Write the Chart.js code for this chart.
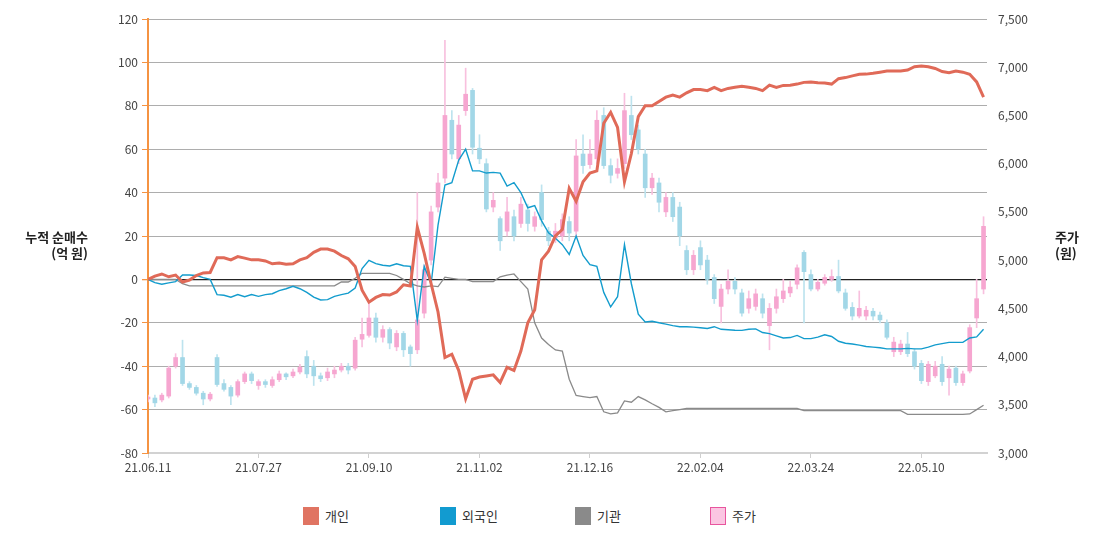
<!DOCTYPE html>
<html>
<head>
    <meta charset="utf-8">
    <title>누적 순매수 / 주가</title>
    <script src="https://cdn.jsdelivr.net/npm/chart.js"></script>
    <style>
        body { margin: 0; background: #fff; font-family: "Noto Sans CJK KR", "Noto Sans", sans-serif; }
        #wrap { position: relative; width: 1100px; height: 541px; }
        #chart { position: absolute; left: 0; top: 0; }
        .axis-title { position: absolute; font-size: 13px; font-weight: bold; color: #222; line-height: 16px; }
        .legend-item { position: absolute; top: 506px; font-size: 13px; color: #333; display: flex; align-items: center; }
        .legend-item span.box { display: inline-block; width: 16px; height: 18px; margin-right: 6px; box-sizing: border-box; }
    </style>
</head>
<body>
<div id="wrap">
    <canvas id="chart" width="1100" height="480"></canvas>
    <div class="axis-title" style="left:10px; top:229px; width:78px; text-align:right;">누적 순매수<br>(억 원)</div>
    <div class="axis-title" style="left:1055px; top:229px;">주가<br>(원)</div>
    <div class="legend-item" style="left:303px;"><span class="box" style="background:#e07462;"></span>개인</div>
    <div class="legend-item" style="left:440px;"><span class="box" style="background:#129bd0;"></span>외국인</div>
    <div class="legend-item" style="left:575px;"><span class="box" style="background:#8a8a8a;"></span>기관</div>
    <div class="legend-item" style="left:710px;"><span class="box" style="background:#fbc6e2; border:1px solid #e8559e;"></span>주가</div>
</div>

<script>
    // x축 눈금 (16포인트 = 32거래일 간격)
    const xTickLabels = ['21.06.11', '21.07.27', '21.09.10', '21.11.02', '21.12.16', '22.02.04', '22.03.24', '22.05.10'];

    // 누적 순매수 (억 원), 2거래일 간격
    const individual = [
        0, 1.5, 2.5, 1.2, 2, -1.2, -0.3, 1.8, 3, 3.2,
        10, 10, 9, 10.5, 9.8, 9, 9, 8.5, 7.2, 7.5,
        7, 7.2, 9, 10, 12.5, 14, 14, 13, 11, 9.5,
        6, -5, -10.5, -8.3, -7, -7.2, -5.8, -2.5, -3, 24,
        12, -2, -15, -36, -34.5, -42, -55, -46, -45, -44.5,
        -44, -47.5, -40.5, -42, -33, -20, -14, 9, 13, 20,
        23, 42, 36, 45, 49, 50, 72, 77, 70, 45,
        58, 75, 80, 80, 82, 84, 85, 84, 86, 87.5,
        87.5, 87, 88.5, 87, 88, 88.5, 89, 88.5, 88, 87,
        89.5, 88.5, 89.4, 89.5, 90, 90.8, 91, 90.6, 90.5, 90,
        92.5, 93, 93.8, 94.5, 94.6, 95, 95.5, 96, 96, 96,
        96.5, 98, 98.3, 98, 97.2, 95.8, 95.2, 96, 95.5, 94.5,
        91, 84
    ];
    const foreign = [
        0, -1.5, -2.2, -1.6, -1, 2, 2, 1.8, 0.8, 0,
        -7, -7.3, -8.2, -7, -8, -7, -7.8, -7, -6.6, -5.2,
        -4.3, -3.2, -4.3, -6, -8.2, -9.5, -9.3, -7.8, -7, -6.3,
        -4, 5, 8.8, 7.3, 6.5, 6.2, 7.2, 6.3, 6, -19,
        6, -2, 25, 43.5, 44.6, 55, 60, 50, 50, 49,
        49.3, 49, 43, 44.6, 40, 33, 34, 27, 21.5, 19,
        16, 11.5, 20, 11, 6.8, 6, -6, -12.7, -8, 16,
        -2, -16, -19.6, -19.3, -20, -20.6, -21.3, -21.8, -21.8, -22,
        -22.3, -22.6, -21.8, -23, -23.2, -23.4, -23.5, -23, -22.8, -24.5,
        -25, -26, -27, -26.8, -25.8, -27.3, -27.3, -26.6, -25.5, -26.3,
        -28.5, -29.4, -29.8, -30.3, -30.9, -31.2, -31.5, -32, -32, -32,
        -31.8, -32, -32, -31.2, -30.2, -29.6, -29, -29, -29, -27,
        -26.5, -23
    ];
    const institution = [
        0, 0, 0, 0, 0, -2, -3, -3, -3, -3,
        -3, -3, -3, -3, -3, -3, -3, -3, -3, -3,
        -3, -3, -3, -3, -3, -3, -3, -3, -1.2, -1.2,
        0.5, 2.8, 2.8, 2.8, 2.8, 2.8, 1.8, 0, -2, -3,
        -3.5, -3, -3.3, 1, 0.5, 0, 0, -1, -1, -1,
        -1, 1.2, 2, 2.5, -1, -4.5, -20, -27, -30, -32.5,
        -33, -46, -53.5, -54, -54.5, -54, -61, -62, -61.5, -56,
        -56.6, -54, -55.5, -57.3, -59, -61, -60.5, -60, -59.5, -59.5,
        -59.5, -59.5, -59.5, -59.5, -59.5, -59.5, -59.5, -59.5, -59.5, -59.5,
        -59.5, -59.5, -59.5, -59.5, -59.5, -60.5, -60.5, -60.5, -60.5, -60.5,
        -60.5, -60.5, -60.5, -60.5, -60.5, -60.5, -60.5, -60.5, -60.5, -60.5,
        -62.2, -62.2, -62.2, -62.2, -62.2, -62.2, -62.2, -62.2, -62.2, -62,
        -60, -58
    ];

    // 주가 (원): 시가 / 종가 / 고가 / 저가
    const priceOpen = [
        3560, 3570, 3550, 3590, 3900, 3990, 3720, 3680, 3620, 3560,
        3990, 3720, 3680, 3600, 3740, 3820, 3700, 3740, 3700, 3760,
        3820, 3800, 3840, 4000, 3900, 3800, 3780, 3820, 3860, 3900,
        3880, 4180, 4220, 4400, 4200, 4280, 4100, 4240, 4100, 4070,
        4450, 5000, 5550, 5850, 6450, 6050, 6550, 6760, 6160, 6000,
        5550, 5430, 5300, 5450, 5380, 5520, 5350, 5700, 5300, 5230,
        5250, 5400, 5300, 6100, 5990, 6050, 6500, 5980, 5900, 6000,
        6500, 6350, 6100, 5750, 5800, 5500, 5650, 5550, 5100, 4900,
        5130, 5000, 4820, 4520, 4700, 4780, 4660, 4500, 4520, 4600,
        4320, 4500, 4600, 4660, 4750, 5080, 4850, 4700, 4760, 4800,
        4830, 4660, 4510, 4420, 4420, 4470, 4430, 4350, 4050, 4050,
        4130, 4050, 3930, 3740, 3800, 3920, 3780, 3880, 3730, 3850,
        4400, 4700
    ];
    const priceClose = [
        3580, 3520, 3600, 3880, 3990, 3720, 3680, 3620, 3560, 3610,
        3710, 3660, 3590, 3740, 3820, 3750, 3740, 3710, 3760, 3820,
        3790, 3840, 3890, 3820, 3800, 3770, 3840, 3860, 3900, 3860,
        4170, 4230, 4400, 4200, 4280, 4140, 4240, 4070, 4030, 4380,
        4900, 5500, 5800, 6500, 6100, 6400, 6720, 6170, 6050, 5530,
        5620, 5200, 5500, 5250, 5580, 5380, 5450, 5420, 5200, 5300,
        5420, 5280, 6080, 5980, 6100, 6450, 5980, 5880, 5950, 6550,
        6300, 6150, 5750, 5850, 5600, 5650, 5450, 5250, 4900, 5050,
        4950, 4800, 4600, 4700, 4780, 4700, 4450, 4600, 4650, 4450,
        4500, 4620, 4680, 4720, 4920, 4880, 4700, 4770, 4820, 4830,
        4680, 4500, 4420, 4500, 4480, 4420, 4380, 4200, 4150, 4130,
        4030, 3900, 3750, 3920, 3900, 3740, 3870, 3730, 3820, 4300,
        4600, 5350
    ];
    const priceHigh = [
        3600, 3600, 3620, 3900, 4030, 4170, 3740, 3700, 3640, 3630,
        4020, 3760, 3700, 3760, 3840, 3840, 3760, 3760, 3790, 3850,
        3830, 3870, 3920, 4060, 3960, 3830, 3880, 3900, 3930, 3930,
        4200, 4400, 4550, 4450, 4320, 4300, 4270, 4260, 4120, 5700,
        4950, 5560, 5900, 7280, 6550, 6500, 6990, 6780, 6300, 6050,
        5700, 5450, 5650, 5520, 5650, 5580, 5500, 5780, 5340, 5380,
        5480, 5450, 6250, 6300, 6250, 6550, 6580, 6050, 6050, 6730,
        6700, 6400, 6150, 5900, 5850, 5700, 5700, 5600, 5150, 5100,
        5200, 5050, 4850, 4750, 4900, 4820, 4700, 4680, 4700, 4650,
        4550, 4700, 4800, 4780, 4950, 5100, 4900, 4800, 4850, 4900,
        5000, 4700, 4560, 4680, 4520, 4500, 4460, 4380, 4200, 4170,
        4250, 4080, 3960, 3950, 3950, 4000, 3900, 3900, 3850, 4330,
        4800, 5450
    ];
    const priceLow = [
        3530, 3480, 3530, 3570, 3880, 3700, 3660, 3600, 3500, 3540,
        3690, 3640, 3500, 3580, 3720, 3720, 3660, 3680, 3680, 3740,
        3760, 3780, 3820, 3780, 3700, 3740, 3750, 3780, 3840, 3820,
        3860, 4100, 4200, 4150, 4150, 4080, 4060, 4000, 3900, 4030,
        4400, 4950, 5500, 5800, 6050, 6000, 6500, 6100, 6000, 5500,
        5500, 5100, 5250, 5200, 5340, 5300, 5300, 5350, 5150, 5180,
        5200, 5200, 5240, 5900, 5950, 6000, 5950, 5800, 5850, 5950,
        6250, 6100, 5650, 5680, 5500, 5450, 5400, 5150, 4850, 4850,
        4900, 4750, 4550, 4350, 4650, 4650, 4420, 4450, 4480, 4400,
        4070, 4450, 4560, 4620, 4700, 4350, 4680, 4680, 4740, 4780,
        4660, 4480, 4380, 4400, 4380, 4380, 4350, 4180, 4000, 4020,
        4000, 3870, 3720, 3700, 3780, 3700, 3600, 3700, 3700, 3830,
        4300, 4650
    ];

    const up = i => priceClose[i] >= priceOpen[i];
    const pts = arr => arr.map((v, i) => ({ x: i, y: v }));
    const font = { family: '"Noto Sans CJK KR", "Noto Sans", sans-serif', size: 12 };

    const ctx = document.getElementById('chart').getContext('2d');
    new Chart(ctx, {
        type: 'bar',
        data: {
            datasets: [
                {
                    type: 'line', label: '개인', data: pts(individual), yAxisID: 'y',
                    borderColor: '#e06a58', borderWidth: 3, pointRadius: 0, tension: 0, order: 0
                },
                {
                    type: 'line', label: '외국인', data: pts(foreign), yAxisID: 'y',
                    borderColor: '#139ccd', borderWidth: 1.4, pointRadius: 0, tension: 0, order: 0
                },
                {
                    type: 'line', label: '기관', data: pts(institution), yAxisID: 'y',
                    borderColor: '#8a8a8a', borderWidth: 1.3, pointRadius: 0, tension: 0, order: 0
                },
                {
                    // 캔들 몸통
                    label: '주가', yAxisID: 'yR', grouped: false, order: 1,
                    data: priceOpen.map((o, i) => ({ x: i, y: [o, priceClose[i]] })),
                    backgroundColor: c => up(c.dataIndex) ? '#f6a6d0' : '#a2d7e7',
                    borderWidth: 0, borderSkipped: false, barThickness: 4
                },
                {
                    // 캔들 꼬리
                    label: '주가(고저)', yAxisID: 'yR', grouped: false, order: 2,
                    data: priceLow.map((l, i) => ({ x: i, y: [l, priceHigh[i]] })),
                    backgroundColor: c => up(c.dataIndex) ? '#f8c0de' : '#bde3ee',
                    borderWidth: 0, borderSkipped: false, barThickness: 1
                }
            ]
        },
        options: {
            responsive: false,
            animation: false,
            layout: { padding: { top: 19, left: 0, right: 0, bottom: 0 } },
            plugins: { legend: { display: false }, tooltip: { enabled: false } },
            scales: {
                x: {
                    type: 'linear', min: 0, max: 121.5, offset: false,
                    afterFit: s => { s.height = 27; },
                    afterBuildTicks: s => { s.ticks = s.ticks.filter(t => t.value % 16 === 0); },
                    ticks: {
                        stepSize: 16, autoSkip: false, maxRotation: 0, color: '#444', font: font, padding: 2,
                        callback: v => xTickLabels[v / 16] || ''
                    },
                    grid: { offset: false, drawOnChartArea: false, tickLength: 5, tickColor: '#cfcfcf' },
                    border: { color: '#d2d2d2', width: 2 }
                },
                y: {
                    position: 'left', min: -80, max: 120,
                    afterFit: s => { s.width = 148; },
                    ticks: { stepSize: 20, color: '#444', font: font, padding: 4 },
                    grid: {
                        color: c => (c.tick && c.tick.value === 0) ? '#222' : '#adadad',
                        lineWidth: c => (c.tick && c.tick.value === 0) ? 1.3 : 1,
                        tickLength: 6, tickColor: '#f59342'
                    },
                    border: { color: '#f59342', width: 2 }
                },
                yR: {
                    position: 'right', min: 3000, max: 7500,
                    afterFit: s => { s.width = 113; },
                    ticks: {
                        stepSize: 500, color: '#444', font: font, padding: 3,
                        callback: v => v.toLocaleString('en-US')
                    },
                    grid: { display: false },
                    border: { display: false }
                }
            }
        }
    });
</script>
</body>
</html>
